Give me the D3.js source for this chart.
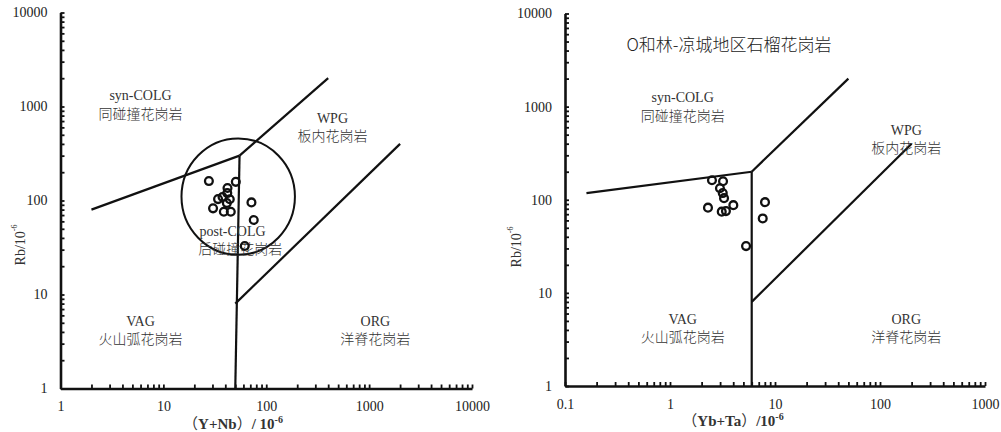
<!DOCTYPE html>
<html><head><meta charset="utf-8">
<script src="https://cdn.jsdelivr.net/npm/d3@7"></script>
<style>
body{margin:0;background:#fff;}
svg{display:block;}
.num{font-family:"Liberation Serif","Times New Roman",serif;font-size:14px;fill:#222;}
.lat{font-family:"Liberation Serif","Times New Roman",serif;font-size:14px;fill:#333;}
.cjk{font-family:"Noto Sans CJK SC",sans-serif;font-size:14px;fill:#333;font-weight:300;}
</style></head><body>
<svg id="c" width="1001" height="432"></svg>
<script>
// ---- Data ----
// Left: Rb vs (Y+Nb)
const leftYNb = [27.7, 50.6, 42, 41.8, 37.6, 34, 44.2, 30.4, 38.7, 45.2, 41.4, 71.8, 75.6, 61.8];
const leftRb  = [161, 158, 136, 120, 109, 103.5, 103, 82.5, 75.9, 75.9, 93.9, 95.5, 62, 32.8];
// Right: Rb vs (Yb+Ta)
const rightYbTa = [2.51, 3.2, 2.99, 3.18, 3.27, 4.01, 2.30, 3.11, 3.41, 8.03, 7.64, 5.3];
const rightRb   = [162, 158, 133, 118, 104, 87.5, 82.3, 74.5, 75.5, 94.2, 63, 31.8];
// Boundary lines (Pearce et al. 1984) in data units
const leftBoundaries = [
  [[2,80],[55,300]],
  [[55,300],[400,2000]],
  [[50,1],[55,300]],
  [[50,8],[2000,400]]
];
const rightBoundaries = [
  [[0.16,118],[6,200]],
  [[6,200],[50,2000]],
  [[6,1],[6,200]],
  [[6,8],[200,400]]
];
// post-COLG field extent: [xmin,xmax],[ymin,ymax]
const postColgField = {x:[15,190], y:[26.4,458]};
const leftXTicks = [1,10,100,1000,10000];
const rightXTicks = [0.1,1,10,100,1000];
const yTicks = [1,10,100,1000,10000];
const leftLabels = [
  {t:"syn-COLG", x:6, y:1300, c:0}, {t:"同碰撞花岗岩", x:6, y:1300, c:1},
  {t:"WPG", x:440, y:750, c:0}, {t:"板内花岗岩", x:440, y:750, c:1},
  {t:"VAG", x:6, y:5.2, c:0}, {t:"火山弧花岗岩", x:6, y:5.2, c:1},
  {t:"ORG", x:1150, y:5.2, c:0}, {t:"洋脊花岗岩", x:1150, y:5.2, c:1},
  {t:"post-COLG", x:47, y:47, c:0}, {t:"后碰撞花岗岩", x:56, y:47, c:1}
];
const rightLabels = [
  {t:"syn-COLG", x:1.32, y:1250, c:0}, {t:"同碰撞花岗岩", x:1.32, y:1250, c:1},
  {t:"WPG", x:178, y:560, c:0}, {t:"板内花岗岩", x:178, y:560, c:1},
  {t:"VAG", x:1.32, y:5.2, c:0}, {t:"火山弧花岗岩", x:1.32, y:5.2, c:1},
  {t:"ORG", x:178, y:5.2, c:0}, {t:"洋脊花岗岩", x:178, y:5.2, c:1}
];
const rightTitle = "O和林-凉城地区石榴花岗岩";

const svg = d3.select("#c");

function minorTicks(domain){
  const out=[];
  let lo=Math.log10(domain[0]), hi=Math.log10(domain[1]);
  for(let e=Math.round(lo); e<=Math.round(hi); e++){
    for(let k=1;k<=9;k++){ const v=k*Math.pow(10,e); if(v>=domain[0]*0.999 && v<=domain[1]*1.001) out.push(v); }
  }
  return out;
}

function panel(cfg){
  const g = svg.append("g");
  const x = d3.scaleLog().domain(cfg.xd).range(cfg.xr);
  const y = d3.scaleLog().domain([1,10000]).range(cfg.yr);
  const fmt = d => String(d);
  // x axis
  const xa = g.append("g").attr("transform",`translate(0,${cfg.yr[0]})`)
    .call(d3.axisBottom(x).tickValues(minorTicks(cfg.xd)).tickSizeInner(-4).tickSizeOuter(0)
      .tickFormat(d => cfg.xt.some(t=>Math.abs(t-d)/d<1e-6) ? fmt(d) : ""));
  xa.select(".domain").attr("stroke","#111").attr("stroke-width",2.6);
  xa.selectAll(".tick line").attr("stroke","#111").attr("stroke-width",1.8);
  xa.selectAll(".tick text").attr("class","num").attr("y",13).attr("dy","0.71em").style("font-size","14px").attr("font-family",null);
  // y axis
  const ya = g.append("g").attr("transform",`translate(${cfg.xr[0]},0)`)
    .call(d3.axisLeft(y).tickValues(minorTicks([1,10000])).tickSizeInner(-4).tickSizeOuter(0)
      .tickFormat(d => yTicks.some(t=>Math.abs(t-d)/d<1e-6) ? fmt(d) : ""));
  ya.select(".domain").attr("stroke","#111").attr("stroke-width",2.6);
  ya.selectAll(".tick line").attr("stroke","#111").attr("stroke-width",1.8);
  ya.selectAll(".tick text").attr("class","num").attr("x",-13).attr("font-family",null).style("font-size","14px");
  // boundaries
  const line = d3.line().x(d=>x(d[0])).y(d=>y(d[1]));
  cfg.bounds.forEach(b=> g.append("path").attr("d",line(b)).attr("fill","none").attr("stroke","#111").attr("stroke-width",2.2));
  if(cfg.field){
    const cx=(x(cfg.field.x[0])+x(cfg.field.x[1]))/2, cy=(y(cfg.field.y[0])+y(cfg.field.y[1]))/2;
    const rx=(x(cfg.field.x[1])-x(cfg.field.x[0]))/2, ry=(y(cfg.field.y[0])-y(cfg.field.y[1]))/2;
    g.append("ellipse").attr("cx",cx).attr("cy",cy).attr("rx",rx).attr("ry",ry).attr("fill","none").attr("stroke","#111").attr("stroke-width",2);
  }
  // labels
  cfg.labels.forEach(l=>{
    g.append("text").attr("class", l.c ? "cjk":"lat")
      .attr("x", x(l.x)).attr("y", y(l.y) + (l.c ? 17 : 0))
      .attr("text-anchor","middle").attr("dominant-baseline","central").text(l.t);
  });
  // points
  g.selectAll("circle.pt").data(cfg.px.map((v,i)=>[v,cfg.py[i]])).enter().append("circle")
    .attr("class","pt").attr("cx",d=>x(d[0])).attr("cy",d=>y(d[1])).attr("r",3.9)
    .attr("fill","none").attr("stroke","#111").attr("stroke-width",2.3);
  // axis titles
  const yt = g.append("text").attr("class","lat").attr("transform",`translate(${cfg.ytx},${cfg.yty}) rotate(-90)`)
    .attr("text-anchor","middle").attr("dominant-baseline","central");
  yt.append("tspan").text("Rb/10");
  yt.append("tspan").attr("dy",-6).style("font-size","8px").text("-6");
  const xt = g.append("text").attr("class","lat").attr("x",cfg.xtx).attr("y",cfg.xty)
    .attr("text-anchor","middle").style("font-weight","bold").style("font-size","15px");
  xt.append("tspan").style("font-family","'Noto Sans CJK SC'").style("font-weight","normal").text("（");
  xt.append("tspan").text(cfg.xname);
  xt.append("tspan").style("font-family","'Noto Sans CJK SC'").style("font-weight","normal").text("）");
  xt.append("tspan").text(cfg.sep + "10");
  xt.append("tspan").attr("dy",-6).style("font-size","10px").text("-6");
  return {g,x,y};
}

panel({xd:[1,10000], xr:[60.5,472], yr:[388.5,12.5], xt:leftXTicks, bounds:leftBoundaries, field:postColgField,
  labels:leftLabels, px:leftYNb, py:leftRb, ytx:20, yty:245, xtx:233, xty:429, xname:"Y+Nb", sep:"/ "});
const r = panel({xd:[0.1,1000], xr:[565,985], yr:[386,13.5], xt:rightXTicks, bounds:rightBoundaries, field:null,
  labels:rightLabels, px:rightYbTa, py:rightRb, ytx:516, yty:247, xtx:733, xty:426, xname:"Yb+Ta", sep:"/"});
r.g.append("text").attr("x",729).attr("y",43).attr("text-anchor","middle").attr("dominant-baseline","central")
  .style("font-family","'Noto Sans CJK SC',sans-serif").style("font-size","17px").style("font-weight","300").style("fill","#222")
  .text(rightTitle);
</script>
</body></html>
